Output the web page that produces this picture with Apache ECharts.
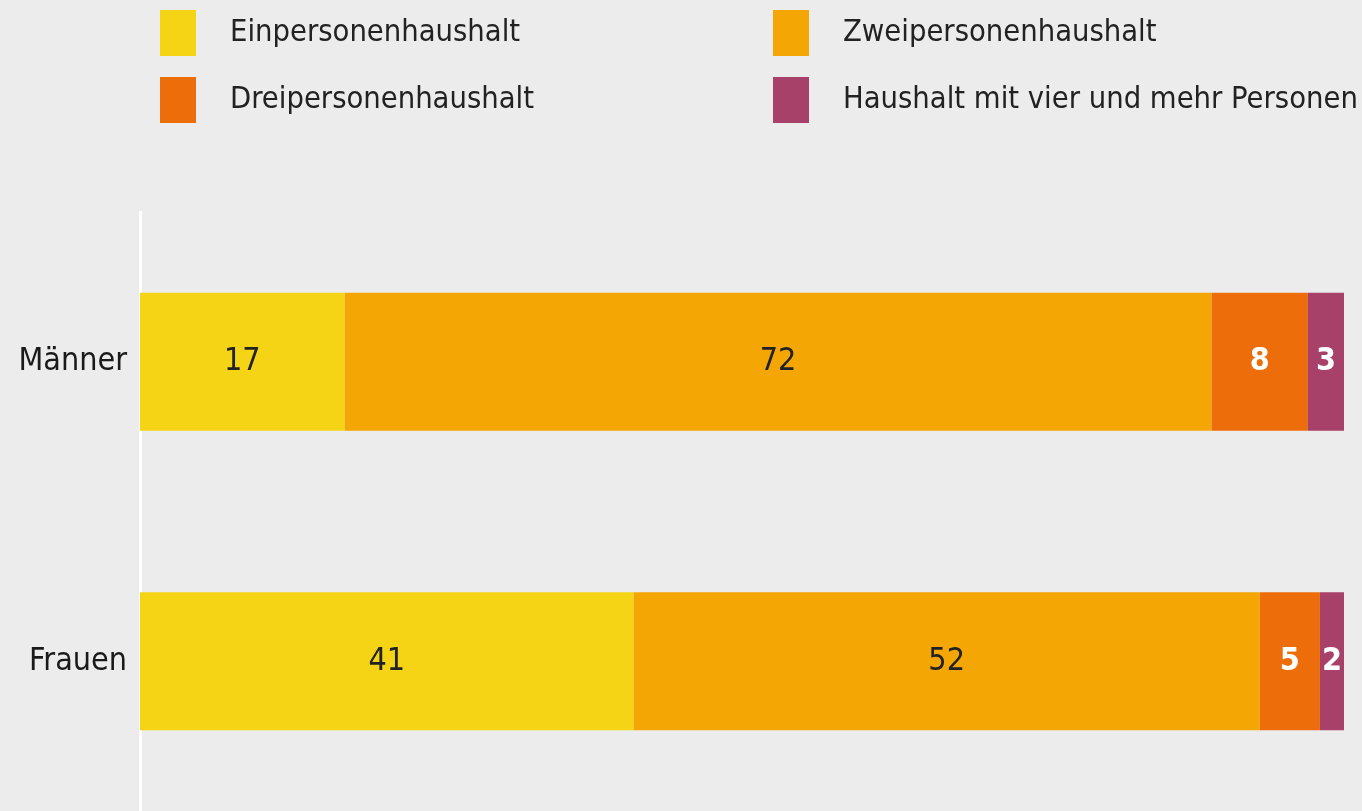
<!DOCTYPE html>
<html>
<head>
<meta charset="utf-8">
<script src="https://cdn.jsdelivr.net/npm/echarts@6/dist/echarts.min.js"></script>
<style>
  html, body { margin: 0; padding: 0; background: #ececec; }
  #chart { width: 1362px; height: 811px; }
</style>
</head>
<body>
<div id="chart"></div>
<script>
var categories = ["Männer", "Frauen"];
var seriesNames = ["Einpersonenhaushalt", "Zweipersonenhaushalt", "Dreipersonenhaushalt", "Haushalt mit vier und mehr Personen"];
var einPersonen = [17, 41];
var zweiPersonen = [72, 52];
var dreiPersonen = [8, 5];
var vierUndMehr = [3, 2];

var colors = ["#f5d415", "#f4a604", "#ec6d0a", "#a8416a"];
var fontFam = "'Liberation Sans Narrow', 'DejaVu Sans Condensed', sans-serif";

function makeSeries(name, data, color, labelColor, bold) {
  return {
    name: name,
    type: "bar",
    stack: "gesamt",
    barWidth: 138,
    itemStyle: { color: color },
    label: {
      show: true,
      position: "inside",
      color: labelColor,
      fontSize: 32,
      fontFamily: fontFam,
      fontWeight: bold ? "bold" : "normal"
    },
    data: data
  };
}

var chart = echarts.init(document.getElementById("chart"));
var legendText = {
  fontSize: 30.6,
  fontFamily: fontFam,
  color: "#222",
  padding: [0, 0, 0, 29]
};
chart.setOption({
  backgroundColor: "#ececec",
  animation: false,
  legend: [
    {
      orient: "vertical",
      left: 160, top: 10, padding: 0,
      itemWidth: 36, itemHeight: 46, itemGap: 21,
      icon: "rect",
      textStyle: legendText,
      data: [seriesNames[0], seriesNames[2]]
    },
    {
      orient: "vertical",
      left: 773, top: 10, padding: 0,
      itemWidth: 36, itemHeight: 46, itemGap: 21,
      icon: "rect",
      textStyle: legendText,
      data: [seriesNames[1], seriesNames[3]]
    }
  ],
  grid: { left: 140, right: 18, top: 212, bottom: 0 },
  xAxis: {
    type: "value",
    min: 0, max: 100,
    show: false
  },
  yAxis: {
    type: "category",
    inverse: true,
    offset: 2,
    data: categories,
    axisLine: { show: true, lineStyle: { color: "#ffffff", width: 3 } },
    axisTick: { show: false },
    axisLabel: {
      fontSize: 32,
      fontFamily: fontFam,
      color: "#1a1a1a",
      margin: 11
    }
  },
  series: [
    makeSeries(seriesNames[0], einPersonen, colors[0], "#222", false),
    makeSeries(seriesNames[1], zweiPersonen, colors[1], "#222", false),
    makeSeries(seriesNames[2], dreiPersonen, colors[2], "#fff", true),
    makeSeries(seriesNames[3], vierUndMehr, colors[3], "#fff", true)
  ]
});
</script>
</body>
</html>
